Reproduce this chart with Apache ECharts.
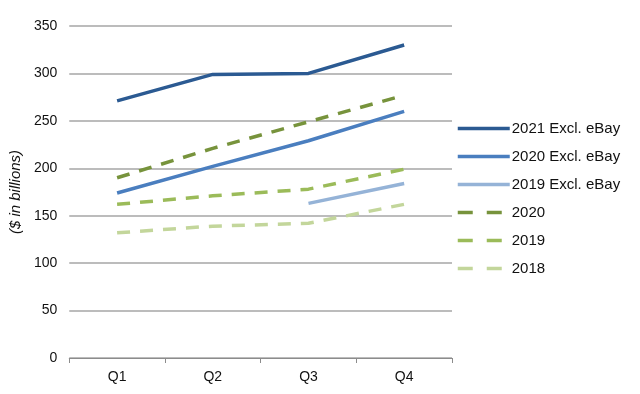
<!DOCTYPE html>
<html><head><meta charset="utf-8">
<script src="https://cdn.jsdelivr.net/npm/echarts@6/dist/echarts.min.js"></script>
<style>html,body{margin:0;padding:0;background:#fff}#c{width:640px;height:394px}</style>
</head><body><div id="c"></div>
<script>
const categories = ['Q1', 'Q2', 'Q3', 'Q4'];
const yTicks = [0, 50, 100, 150, 200, 250, 300, 350];
const excl2021 = [271, 299, 300, 330];
const excl2020 = [174, 202, 229, 260];
const excl2019 = [null, null, 163, 184];
const y2020 = [190, 221, 249, 277];
const y2019 = [162, 171, 178, 199];
const y2018 = [132, 139, 142, 162];

const seriesDefs = [
  {name: '2021 Excl. eBay', data: excl2021, color: '#2b5a92', dash: 'solid'},
  {name: '2020 Excl. eBay', data: excl2020, color: '#4a7ebf', dash: 'solid'},
  {name: '2019 Excl. eBay', data: excl2019, color: '#95b3d7', dash: 'solid'},
  {name: '2020', data: y2020, color: '#77933c', dash: [13, 10]},
  {name: '2019', data: y2019, color: '#9bbb59', dash: [13, 10]},
  {name: '2018', data: y2018, color: '#c3d69b', dash: [13, 10]}
];

const chart = echarts.init(document.getElementById('c'), null, {renderer: 'canvas'});
chart.setOption({
  animation: false,
  backgroundColor: '#fff',
  textStyle: {fontFamily: 'Liberation Sans, Arial, sans-serif'},
  grid: {left: 68, right: 188, top: 26, bottom: 36, containLabel: false},
  legend: {
    orient: 'vertical',
    left: 451,
    top: 116,
    itemWidth: 52,
    itemHeight: 14,
    itemGap: 13,
    itemStyle: {opacity: 0},
    lineStyle: {width: 3.5},
    textStyle: {fontSize: 15, color: '#111', padding: [0, 0, 0, -3]},
    data: seriesDefs.map(s => Array.isArray(s.dash)
      ? {name: s.name, lineStyle: {width: 3.5, type: [15, 14]}}
      : {name: s.name})
  },
  xAxis: {
    type: 'category',
    data: categories,
    boundaryGap: true,
    axisLine: {lineStyle: {color: '#8c8c8c', width: 1}},
    axisTick: {show: true, length: 5, alignWithLabel: false, lineStyle: {color: '#8c8c8c'}},
    axisLabel: {fontSize: 14, color: '#111', margin: 12},
    splitLine: {show: false}
  },
  yAxis: {
    type: 'value',
    min: yTicks[0],
    max: yTicks[yTicks.length - 1],
    interval: 50,
    name: '($ in billions)',
    nameLocation: 'middle',
    nameGap: 41,
    nameRotate: 90,
    nameTextStyle: {fontSize: 15, fontStyle: 'italic', color: '#111'},
    axisLine: {show: false},
    axisTick: {show: false},
    axisLabel: {fontSize: 14, color: '#111', margin: 12},
    splitLine: {lineStyle: {color: '#a6a6a6', width: 1.5}}
  },
  series: seriesDefs.map(s => ({
    name: s.name,
    type: 'line',
    data: s.data,
    symbol: 'none',
    showSymbol: false,
    connectNulls: false,
    lineStyle: {color: s.color, width: 3.5, type: s.dash, cap: 'butt'},
    itemStyle: {color: s.color}
  }))
});
</script>
</body></html>
